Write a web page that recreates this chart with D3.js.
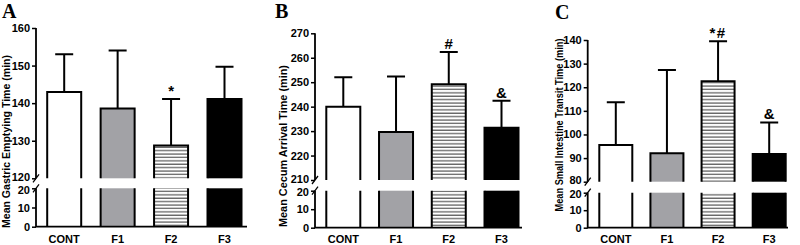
<!DOCTYPE html>
<html>
<head>
<meta charset="utf-8">
<script src="https://cdn.jsdelivr.net/npm/d3@7"></script>
<style>
  body { margin: 0; background: #fff; }
  svg { display: block; }
</style>
</head>
<body>
<script>
// data
const categories = ["CONT", "F1", "F2", "F3"];

const gastricMean = [143, 138.6, 128.7, 141.1];
const gastricSD   = [10, 15.4, 12.4, 8.6];
const gastricMarks = ["", "", "*", ""];

const cecumMean = [240, 229.6, 249.2, 231.4];
const cecumSD   = [12, 22.7, 13.2, 11];
const cecumMarks = ["", "", "#", "&"];

const transitMean = [95.5, 92, 122.5, 91.7];
const transitSD   = [18.1, 35.3, 17, 13.4];
const transitMarks = ["", "", "*#", "&"];

const gastricTicks = [120, 130, 140, 150, 160];
const cecumTicks = [210, 220, 230, 240, 250, 260, 270];
const transitTicks = [80, 90, 100, 110, 120, 130, 140];
const lowTicks = [0, 10, 20];

const fills = ["#ffffff", "#a2a2a6", "url(#hatch)", "#000000"];

// layout of each panel
const panels = [
  {letter: "A", lx: 2, ly: 18, title: "Mean Gastric Emptying Time (min)", tx: 6, ty: 141.5, tlen: 173,
   mean: gastricMean, sd: gastricSD, marks: gastricMarks, ticks: gastricTicks,
   ax: 36, axEnd: 247, c0: 64.2, c3: 224.5, bw: 34,
   top: 28, upBot: 178.3, lowTop: 188.3, base: 226.7},
  {letter: "B", lx: 275, ly: 18, title: "Mean Cecum Arrival Time (min)", tx: 283.3, ty: 146, tlen: 162,
   mean: cecumMean, sd: cecumSD, marks: cecumMarks, ticks: cecumTicks,
   ax: 315, axEnd: 522, c0: 343.3, c3: 501.5, bw: 34,
   top: 33.3, upBot: 180, lowTop: 190.7, base: 227.7},
  {letter: "C", lx: 555, ly: 19, title: "Mean Small Intestine Transit Time (min)", tx: 559.3, ty: 125, tlen: 173,
   mean: transitMean, sd: transitSD, marks: transitMarks, ticks: transitTicks,
   ax: 587.7, axEnd: 788, c0: 615.8, c3: 769.2, bw: 33,
   top: 40, upBot: 181.7, lowTop: 192.7, base: 227.7}
];

const svg = d3.select("body").append("svg")
  .attr("width", 800).attr("height", 245);

// horizontal hatch for F2
const pat = svg.append("defs").append("pattern")
  .attr("id", "hatch")
  .attr("patternUnits", "userSpaceOnUse")
  .attr("width", 6).attr("height", 3.4);
pat.append("rect").attr("width", 6).attr("height", 3.4).attr("fill", "#fff");
pat.append("line").attr("x1", 0).attr("x2", 6).attr("y1", 1).attr("y2", 1)
  .attr("stroke", "#333").attr("stroke-width", 1);

const sans = "'Liberation Sans', Arial, sans-serif";

panels.forEach(p => {
  const g = svg.append("g");
  const lo = p.ticks[0], hi = p.ticks[p.ticks.length - 1];

  const yUp = d3.scaleLinear().domain([lo, hi]).range([p.upBot, p.top]);
  const yLow = d3.scaleLinear().domain([0, 20]).range([p.base, p.lowTop]);
  const x = d3.scalePoint().domain(categories).range([p.c0, p.c3]);

  // panel letter
  g.append("text").attr("x", p.lx).attr("y", p.ly)
    .attr("font-family", "'Liberation Serif', 'Times New Roman', serif")
    .attr("font-weight", "bold").attr("font-size", 20)
    .text(p.letter);

  // y title
  g.append("text")
    .attr("transform", `translate(${p.tx},${p.ty}) rotate(-90)`)
    .attr("text-anchor", "middle").attr("dominant-baseline", "central")
    .attr("font-family", sans).attr("font-weight", "bold").attr("font-size", 10.5)
    .attr("textLength", p.tlen).attr("lengthAdjust", "spacingAndGlyphs")
    .text(p.title);

  // bars, upper part
  categories.forEach((c, i) => {
    const x0 = x(c) - p.bw / 2, x1 = x(c) + p.bw / 2;
    const yt = yUp(p.mean[i]);
    g.append("rect").attr("x", x0).attr("y", yt)
      .attr("width", p.bw).attr("height", p.upBot - yt)
      .attr("fill", fills[i]);
    g.append("path")
      .attr("d", `M${x0},${p.upBot}V${yt}H${x1}V${p.upBot}`)
      .attr("fill", "none").attr("stroke", "#000").attr("stroke-width", 2);

    // lower part
    g.append("rect").attr("x", x0).attr("y", p.lowTop)
      .attr("width", p.bw).attr("height", p.base - p.lowTop)
      .attr("fill", fills[i]);
    g.append("path")
      .attr("d", `M${x0},${p.base}V${p.lowTop}M${x1},${p.base}V${p.lowTop}`)
      .attr("fill", "none").attr("stroke", "#000").attr("stroke-width", 2);

    // error bar (upper only)
    const ye = yUp(p.mean[i] + p.sd[i]);
    g.append("path")
      .attr("d", `M${x(c)},${yt}V${ye}M${x(c) - 9},${ye}H${x(c) + 9}`)
      .attr("fill", "none").attr("stroke", "#000").attr("stroke-width", 2);

    if (p.marks[i]) {
      g.append("text").attr("x", x(c)).attr("y", ye - 3)
        .attr("text-anchor", "middle")
        .attr("font-family", sans).attr("font-weight", "bold").attr("font-size", 15)
        .attr("letter-spacing", p.marks[i].length > 1 ? 1.5 : 0)
        .text(p.marks[i]);
    }
  });

  // y axes (upper and lower)
  const styleAxis = sel => {
    sel.select(".domain").remove();
    sel.selectAll(".tick line").attr("stroke", "#000").attr("stroke-width", 1.5);
    sel.selectAll(".tick text")
      .attr("font-family", sans).attr("font-weight", "bold").attr("font-size", 11)
      .attr("fill", "#000");
  };
  const upAxis = g.append("g").attr("transform", `translate(${p.ax},0)`)
    .call(d3.axisLeft(yUp).tickValues(p.ticks).tickSize(4).tickPadding(2))
    .call(styleAxis);
  const lowAxis = g.append("g").attr("transform", `translate(${p.ax},0)`)
    .call(d3.axisLeft(yLow).tickValues(lowTicks).tickSize(4).tickPadding(2))
    .call(styleAxis);
  // keep the two labels at the break apart
  upAxis.selectAll(".tick text").filter(d => d === lo).attr("dy", "0.2em");
  lowAxis.selectAll(".tick text").filter(d => d === 20).attr("dy", "0.45em");

  // axis lines with break
  g.append("path")
    .attr("d", `M${p.ax},${p.top}V${p.upBot}M${p.ax},${p.lowTop}V${p.base}H${p.axEnd}`)
    .attr("fill", "none").attr("stroke", "#000").attr("stroke-width", 1.8);
  [p.upBot, p.lowTop].forEach(yb => {
    g.append("line")
      .attr("x1", p.ax - 3).attr("y1", yb + 4)
      .attr("x2", p.ax + 3).attr("y2", yb - 4)
      .attr("stroke", "#000").attr("stroke-width", 1.3);
  });

  // x labels
  categories.forEach(c => {
    g.append("text").attr("x", x(c)).attr("y", 243)
      .attr("text-anchor", "middle")
      .attr("font-family", sans).attr("font-weight", "bold").attr("font-size", 11)
      .text(c);
  });
});
</script>
</body>
</html>
